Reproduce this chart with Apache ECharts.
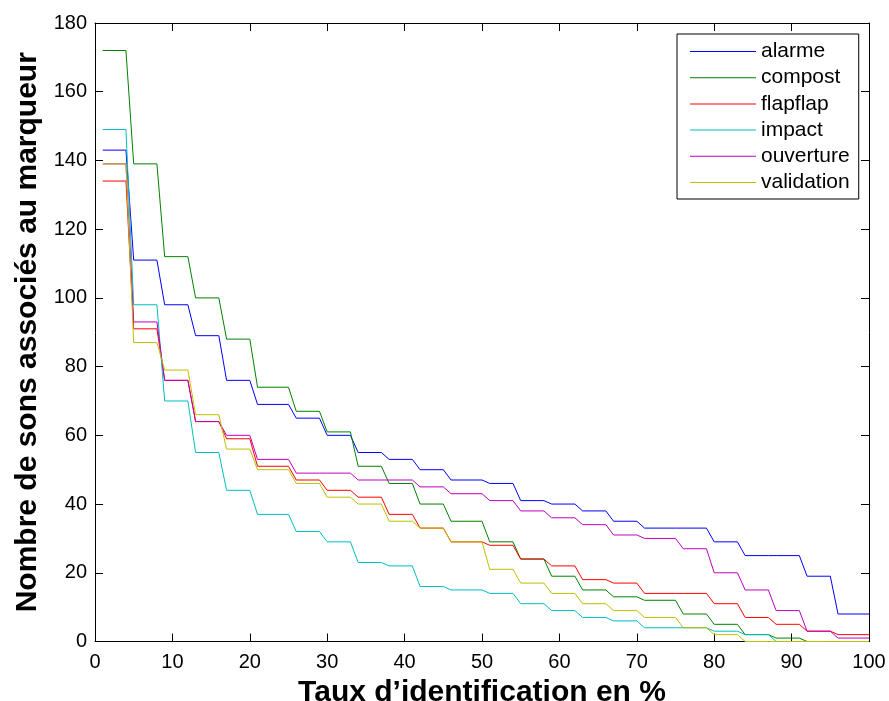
<!DOCTYPE html>
<html>
<head>
<meta charset="utf-8">
<script src="https://cdn.jsdelivr.net/npm/echarts@6/dist/echarts.min.js"></script>
<style>
html,body{margin:0;padding:0;background:#fff;}
#chart{width:889px;height:701px;}
</style>
</head>
<body>
<div id="chart"></div>
<script>
// x-ranges (in %) of each plateau of the step curves
var stepStart = [1,5,9,13,17,21,26,30,34,38,42,46,51,55,59,63,67,71,76,80,84,88,92,96];
var stepEnd   = [4,8,12,16,20,25,29,33,37,41,45,50,54,58,62,66,70,75,79,83,87,91,95,100];

var seriesNames = ['alarme','compost','flapflap','impact','ouverture','validation'];

var alarme     = [143,111,98,89,76,69,65,60,55,53,50,47,46,41,40,38,35,33,33,29,25,25,19,8];
var compost    = [172,139,112,100,88,74,67,61,51,46,40,35,29,24,19,15,13,12,8,5,2,1,0,0];
var flapflap   = [134,91,76,64,59,51,47,44,42,37,33,29,28,24,22,18,17,14,14,11,7,5,3,2];
var impact     = [149,98,70,55,44,37,32,29,23,22,16,15,14,11,9,7,6,4,4,3,2,0,0,0];
var ouverture  = [139,93,76,64,60,53,49,49,47,47,45,43,41,38,36,34,31,30,27,20,15,9,3,1];
var validation = [139,87,79,66,56,50,46,42,40,35,33,29,21,17,14,11,9,7,4,2,0,0,0,0];

var xTicks = [0,10,20,30,40,50,60,70,80,90,100];
var yTicks = [0,20,40,60,80,100,120,140,160,180];

var colors = ['#0000ff','#008000','#ff0000','#00bfbf','#bf00bf','#bfbf00'];
var allValues = [alarme, compost, flapflap, impact, ouverture, validation];

function buildPoints(vals){
  var pts = [];
  for (var k = 0; k < vals.length; k++){
    pts.push([stepStart[k], vals[k]]);
    if (stepEnd[k] !== stepStart[k]) pts.push([stepEnd[k], vals[k]]);
  }
  return pts;
}

var FONT = 'Liberation Sans, Arial, Helvetica, sans-serif';

var series = seriesNames.map(function(n, i){
  return {
    name: n,
    type: 'line',
    data: buildPoints(allValues[i]),
    showSymbol: false,
    symbol: 'none',
    lineStyle: {color: colors[i], width: 1},
    itemStyle: {color: colors[i]},
    z: 2 + i
  };
});

var chart = echarts.init(document.getElementById('chart'), null, {renderer:'canvas'});
var axisCommon = {
  type: 'value',
  axisLine: {show: true, onZero: false, lineStyle: {color: '#000', width: 1}},
  axisTick: {show: true, inside: true, length: 8, lineStyle: {color: '#000', width: 1}},
  splitLine: {show: false}
};
chart.setOption({
  animation: false,
  backgroundColor: '#fff',
  color: colors,
  grid: {left: 95, right: 20, top: 23, bottom: 59.5, containLabel: false, outerBoundsMode: 'none'},
  legend: {
    orient: 'vertical',
    left: 677, top: 34,
    padding: [7, 9, 6, 13],
    icon: 'rect',
    itemWidth: 66, itemHeight: 1, itemGap: 5.2,
    backgroundColor: '#fff',
    borderColor: '#000', borderWidth: 1,
    textStyle: {fontFamily: FONT, fontSize: 21, color: '#000', lineHeight: 21},
    data: seriesNames
  },
  xAxis: [
    Object.assign({}, axisCommon, {
      min: xTicks[0], max: xTicks[xTicks.length-1], interval: 10,
      position: 'bottom',
      axisLabel: {show: true, margin: 11, fontFamily: FONT, fontSize: 20, color: '#000'},
      name: 'Taux d’identification en %',
      nameLocation: 'middle', nameGap: 36,
      nameTextStyle: {fontFamily: FONT, fontSize: 30, fontWeight: 'bold', color: '#000'}
    }),
    Object.assign({}, axisCommon, {
      min: xTicks[0], max: xTicks[xTicks.length-1], interval: 10,
      position: 'top',
      axisLabel: {show: false}
    })
  ],
  yAxis: [
    Object.assign({}, axisCommon, {
      min: yTicks[0], max: yTicks[yTicks.length-1], interval: 20,
      position: 'left',
      axisLabel: {show: true, margin: 8, fontFamily: FONT, fontSize: 20, color: '#000'},
      name: 'Nombre de sons associés au marqueur',
      nameLocation: 'middle', nameGap: 52,
      nameTextStyle: {fontFamily: FONT, fontSize: 30, fontWeight: 'bold', color: '#000'}
    }),
    Object.assign({}, axisCommon, {
      min: yTicks[0], max: yTicks[yTicks.length-1], interval: 20,
      position: 'right',
      axisLabel: {show: false}
    })
  ],
  series: series
});
</script>
</body>
</html>
